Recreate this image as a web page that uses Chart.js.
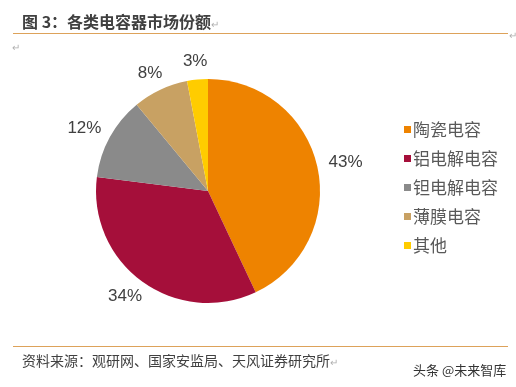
<!DOCTYPE html>
<html>
<head>
<meta charset="utf-8">
<script src="https://cdn.jsdelivr.net/npm/chart.js@4/dist/chart.umd.min.js"></script>
<style>
  html, body { margin: 0; padding: 0; background: #fff; }
  #wrap { position: relative; width: 516px; height: 387px; overflow: hidden; font-family: "Noto Sans CJK SC", "Noto Sans", sans-serif; }
  #c { position: absolute; left: 0; top: 0; }
  .title { position: absolute; left: 22px; top: 10px; font-size: 16px; font-weight: bold; color: #404040; white-space: nowrap; line-height: 22px; }
  .ret { color: #b0b0b0; font-weight: normal; font-size: 10px; }
  .hline { position: absolute; left: 13px; width: 495px; height: 1px; background: #DDA25A; }
  .source { position: absolute; left: 22px; top: 350px; font-size: 14px; color: #404040; white-space: nowrap; line-height: 20px; }
  .wm { position: absolute; left: 413px; top: 361px; font-size: 13px; color: #333; white-space: nowrap; line-height: 18px; }
  .legend { position: absolute; left: 404px; top: 117px; }
  .legend .item { position: relative; height: 29px; line-height: 24px; font-size: 17px; color: #595959; white-space: nowrap; }
  .legend .sw { display: inline-block; width: 7px; height: 7px; margin-right: 2px; vertical-align: 3px; }
  .mark { position: absolute; color: #b0b0b0; font-size: 10px; }
</style>
</head>
<body>
<div id="wrap">
  <canvas id="c" width="516" height="387"></canvas>
  <div class="title">图 3：各类电容器市场份额<span class="ret">↵</span></div>
  <div class="hline" style="top:33px"></div>
  <div class="mark" style="left:509px; top:27px;">↵</div>
  <div class="mark" style="left:12px; top:39px;">↵</div>
  <div class="hline" style="top:346px"></div>
  <div class="source">资料来源：观研网、国家安监局、天风证券研究所<span class="ret">↵</span></div>
  <div class="wm">头条 @未来智库</div>
  <div class="legend" id="legend"></div>
</div>
<script>
const categories = ["陶瓷电容", "铝电解电容", "钽电解电容", "薄膜电容", "其他"];
const shares = [43, 34, 12, 8, 3];
const pctLabels = ["43%", "34%", "12%", "8%", "3%"];
const colors = ["#EE8300", "#A50F3A", "#8A8A8A", "#C8A163", "#FFCC00"];

const legendEl = document.getElementById('legend');
categories.forEach((name, i) => {
  const d = document.createElement('div');
  d.className = 'item';
  d.innerHTML = '<span class="sw" style="background:' + colors[i] + '"></span>' + name;
  legendEl.appendChild(d);
});

const labelPlugin = {
  id: 'outLabels',
  afterDatasetsDraw(chart) {
    const ctx = chart.ctx;
    const meta = chart.getDatasetMeta(0);
    ctx.save();
    ctx.font = '17px "Liberation Sans", Arial, sans-serif';
    ctx.fillStyle = '#404040';
    ctx.textAlign = 'center';
    ctx.textBaseline = 'middle';
    const gap = 12, halfH = 6;
    meta.data.forEach((arc, i) => {
      const p = arc.getProps(['x', 'y', 'startAngle', 'endAngle', 'outerRadius'], true);
      const mid = (p.startAngle + p.endAngle) / 2;
      const cx = Math.cos(mid), sy = Math.sin(mid);
      const halfW = ctx.measureText(pctLabels[i]).width / 2;
      const r = p.outerRadius + gap;
      ctx.fillText(pctLabels[i], p.x + cx * r + cx * halfW, p.y + sy * r + sy * halfH);
    });
    ctx.restore();
  }
};

new Chart(document.getElementById('c'), {
  type: 'pie',
  data: {
    labels: categories,
    datasets: [{ data: shares, backgroundColor: colors, borderWidth: 0 }]
  },
  options: {
    responsive: false,
    animation: false,
    layout: { padding: { left: 96, right: 196, top: 79, bottom: 84 } },
    plugins: { legend: { display: false }, tooltip: { enabled: false } }
  },
  plugins: [labelPlugin]
});
</script>
</body>
</html>
